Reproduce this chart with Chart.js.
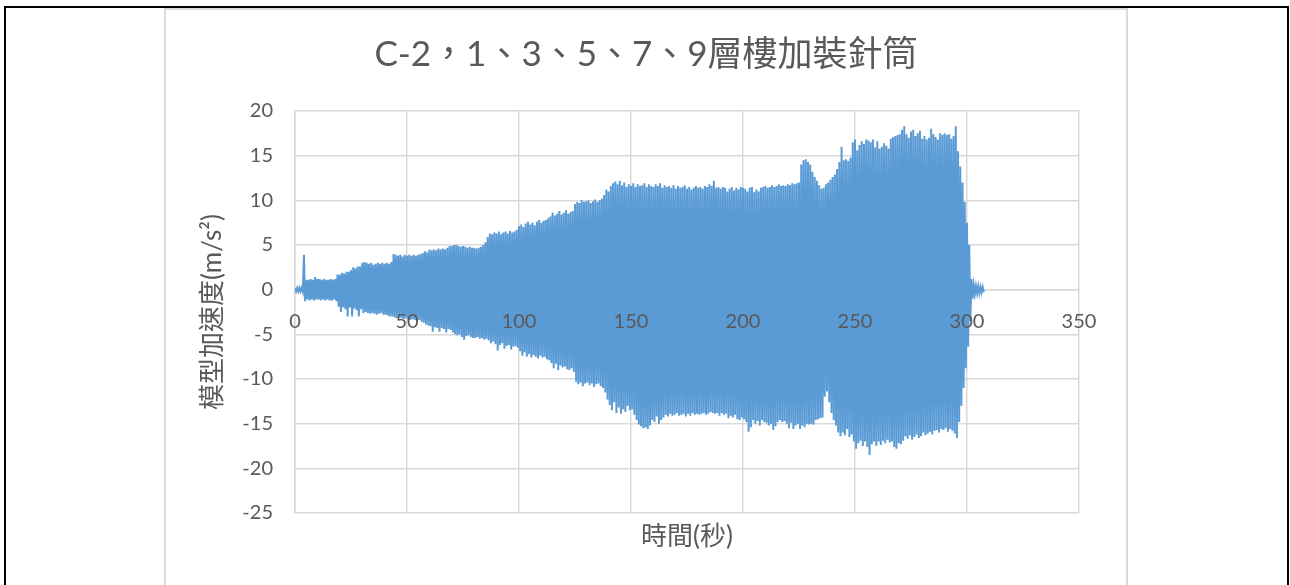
<!DOCTYPE html>
<html>
<head>
<meta charset="utf-8">
<script src="https://cdn.jsdelivr.net/npm/chart.js@4"></script>
<style>
  body { margin: 0; background: #fff; }
  #frame { position: absolute; left: 4px; top: 6px; width: 1285px; height: 700px; border: 2px solid #000; box-sizing: border-box; }
  #box { position: absolute; left: 164px; top: 8px; width: 964px; height: 590px; border: 2px solid #d9d9d9; box-sizing: border-box; background: #fff; }
  #accChart { position: absolute; left: 0; top: 0; }
</style>
</head>
<body>
<div id="frame"></div>
<div id="box"><canvas id="accChart" width="960" height="573"></canvas></div>
<script>
// envelope of the acceleration record, one top and one bottom value per second (t = 0 .. 307 s)
const upperEnv = [
  0.2,0.2,0.2,0.2,3.9,1.1,1.1,1.2,1.1,1.4,
  1.2,1.2,1.1,1.2,1.1,1.1,1.2,1.1,1.2,1.7,
  1.7,1.9,1.8,2.0,2.0,2.2,2.5,2.4,2.6,2.6,
  3.0,3.1,3.0,2.9,3.0,2.8,2.9,3.0,2.9,3.0,
  2.9,3.0,2.9,3.1,4.0,3.9,3.8,3.9,3.7,3.9,
  3.8,3.9,3.8,3.9,3.8,3.9,4.0,4.1,4.3,4.2,
  4.5,4.4,4.5,4.4,4.6,4.5,4.6,4.5,4.7,4.9,
  4.9,5.0,5.0,4.9,4.8,4.9,4.8,4.7,4.8,4.7,
  4.7,4.6,4.7,4.8,5.0,5.3,5.9,6.3,6.2,6.4,
  6.3,6.5,6.2,6.4,6.5,6.3,6.6,6.4,6.5,6.7,
  7.1,7.3,7.0,7.4,7.6,7.3,7.5,7.2,7.6,7.8,
  7.5,7.7,7.8,8.0,8.2,8.6,8.3,8.5,8.8,8.4,
  8.6,8.9,8.5,8.7,8.8,9.6,9.8,9.7,10.0,9.8,
  9.9,10.0,9.7,9.9,10.1,9.8,10.0,10.2,10.6,11.2,
  11.0,11.6,11.9,12.1,11.8,12.2,11.7,12.0,11.5,11.8,
  11.6,11.9,11.5,11.8,11.6,11.7,11.9,11.5,11.8,11.6,
  11.5,11.8,11.6,11.9,11.4,11.7,11.5,11.6,11.4,11.7,
  11.3,11.6,11.4,11.5,11.7,11.3,11.5,11.2,11.4,11.6,
  11.4,11.5,11.3,11.6,11.5,11.8,11.6,12.2,11.4,11.5,
  11.3,11.5,11.4,11.0,11.3,11.5,11.1,11.4,11.2,11.5,
  11.4,11.3,11.0,11.4,11.5,10.9,11.2,11.0,11.4,11.5,
  11.6,11.4,11.5,11.7,11.5,11.6,11.8,11.6,11.7,11.6,
  11.8,11.7,11.9,11.8,11.9,12.0,14.0,14.5,14.6,14.3,
  14.0,13.2,12.6,12.2,11.7,11.3,11.4,11.8,12.0,12.3,
  12.6,12.9,13.5,14.3,16.0,14.5,14.6,14.4,14.8,16.5,
  16.8,15.6,16.2,16.6,16.3,16.8,16.7,16.5,16.8,15.9,
  16.6,15.8,16.0,16.4,16.1,15.8,16.9,17.1,17.2,17.3,
  17.4,17.9,18.3,17.4,17.0,17.7,17.9,17.2,17.5,17.8,
  16.9,17.2,16.8,17.0,18.0,17.4,17.1,16.8,17.5,17.3,
  17.5,17.3,17.4,16.9,17.2,18.3,15.5,13.8,12.0,9.8,
  7.5,5.0,1.2,0.5,0.4,0.4,0.3,0.3
];
const lowerEnv = [
  -0.2,-0.2,-0.2,-0.2,-1.3,-1.1,-1.2,-1.1,-1.2,-1.1,
  -1.1,-1.2,-1.1,-1.2,-1.1,-1.2,-1.2,-1.1,-1.3,-1.9,
  -2.5,-2.0,-2.2,-3.0,-2.0,-3.0,-2.1,-2.3,-3.0,-2.2,
  -2.6,-2.5,-2.6,-2.7,-2.6,-2.7,-2.8,-2.7,-2.6,-2.8,
  -2.8,-2.9,-3.0,-3.0,-3.1,-3.2,-3.1,-3.2,-3.3,-3.2,
  -3.3,-3.4,-3.3,-3.4,-3.5,-3.4,-3.6,-3.7,-3.9,-4.0,
  -4.1,-4.7,-4.2,-4.3,-4.7,-4.3,-4.4,-4.8,-4.4,-4.5,
  -4.8,-5.0,-5.1,-5.0,-5.3,-5.6,-5.2,-5.1,-5.3,-5.4,
  -5.4,-5.3,-5.5,-5.4,-5.6,-5.5,-5.7,-6.0,-5.8,-6.1,
  -6.8,-6.2,-6.0,-6.6,-6.3,-6.2,-6.7,-6.4,-6.3,-6.5,
  -6.9,-7.4,-7.0,-7.5,-7.2,-7.6,-7.3,-7.5,-7.7,-7.4,
  -7.6,-7.5,-7.8,-7.9,-8.2,-8.8,-8.3,-9.0,-8.5,-8.7,
  -8.6,-8.9,-9.0,-8.8,-9.2,-10.3,-10.6,-10.4,-10.8,-10.5,
  -10.4,-10.7,-10.5,-10.9,-10.6,-10.5,-10.8,-11.0,-11.5,-12.3,
  -12.9,-13.5,-12.6,-13.8,-13.2,-13.9,-13.4,-13.7,-13.0,-13.5,
  -13.4,-14.0,-14.6,-15.1,-15.3,-15.5,-15.4,-15.6,-15.2,-14.6,
  -14.8,-14.2,-15.0,-14.6,-14.3,-14.0,-14.2,-13.9,-14.1,-14.0,
  -13.8,-14.1,-14.0,-13.9,-14.2,-13.9,-14.1,-13.8,-14.0,-13.9,
  -14.0,-13.9,-13.8,-14.0,-13.9,-13.7,-13.8,-13.9,-13.8,-14.1,
  -13.8,-14.0,-13.9,-14.4,-14.1,-14.3,-14.0,-14.5,-14.6,-14.3,
  -14.5,-14.8,-15.9,-15.4,-14.6,-15.0,-14.7,-15.2,-14.6,-14.8,
  -14.9,-15.2,-15.0,-15.7,-15.3,-14.8,-14.6,-14.8,-14.7,-15.0,
  -15.5,-14.9,-15.6,-15.2,-15.0,-15.6,-15.2,-15.4,-15.0,-15.1,
  -15.0,-15.1,-14.6,-14.5,-14.4,-14.3,-12.0,-11.4,-12.6,-13.8,
  -14.6,-15.2,-16.0,-16.4,-16.0,-16.3,-15.6,-16.5,-16.2,-17.0,
  -17.8,-17.2,-16.9,-17.5,-17.0,-17.6,-18.5,-17.3,-17.0,-17.5,
  -17.0,-17.4,-16.9,-17.2,-16.8,-17.1,-17.0,-17.6,-17.8,-17.2,
  -17.3,-16.9,-16.4,-16.7,-16.3,-16.8,-16.5,-16.2,-16.6,-16.4,
  -16.0,-16.3,-16.1,-15.9,-16.2,-15.8,-15.7,-16.0,-15.6,-15.7,
  -15.5,-15.9,-15.6,-15.8,-16.1,-16.6,-14.8,-13.0,-11.0,-8.8,
  -6.4,-3.5,-1.0,-0.5,-0.4,-0.4,-0.3,-0.3
];
const xTicks = [0, 50, 100, 150, 200, 250, 300, 350];
const yTicks = [20, 15, 10, 5, 0, -5, -10, -15, -20, -25];

const chartTitle = 'C-2，1、3、5、7、9層樓加裝針筒';
const xTitle = '時間(秒)';
const yTitle = '模型加速度(m/s²)';

// the trace swings between the top and the bottom of the envelope every second
const points = [];
upperEnv.forEach((top, i) => {
  points.push({ x: i, y: top });
  points.push({ x: i + 0.5, y: lowerEnv[i] });
});

const grey = '#595959';
const gridGrey = '#d9d9d9';
const fontFam = "Lato, 'Noto Sans CJK TC', sans-serif";

new Chart(document.getElementById('accChart'), {
  type: 'line',
  data: {
    datasets: [{
      data: points,
      xAxisID: 'x',
      yAxisID: 'y',
      borderColor: '#5B9BD5',
      borderWidth: 2,
      pointRadius: 0,
      tension: 0,
      fill: false
    }]
  },
  options: {
    responsive: false,
    animation: false,
    layout: { padding: { left: 0, right: 0, top: 0, bottom: 30.4 } },
    plugins: {
      legend: { display: false },
      tooltip: { enabled: false },
      title: {
        display: true,
        text: chartTitle,
        color: grey,
        font: { family: fontFam, size: 35, weight: 'normal' },
        padding: { top: 24, bottom: 35 }
      }
    },
    scales: {
      x: {
        type: 'linear',
        min: 0,
        max: 350,
        position: { y: 0 },
        afterBuildTicks: s => { s.ticks = xTicks.map(v => ({ value: v })); },
        ticks: { color: grey, padding: 20, z: 1, font: { family: fontFam, size: 20 } },
        grid: { color: gridGrey, lineWidth: 1.5, drawTicks: false },
        border: { color: gridGrey, width: 1.5 }
      },
      xLabel: {
        type: 'linear',
        axis: 'x',
        min: 0,
        max: 350,
        position: 'bottom',
        ticks: { display: false },
        grid: { display: false, drawTicks: false },
        border: { display: false },
        title: {
          display: true,
          text: xTitle,
          color: grey,
          font: { family: fontFam, size: 26 },
          padding: { top: 8.4, bottom: 0 }
        }
      },
      y: {
        type: 'linear',
        min: -25,
        max: 20,
        afterBuildTicks: s => { s.ticks = yTicks.map(v => ({ value: v })); },
        afterFit: s => { s.width = 129; },
        ticks: { color: grey, padding: 22, font: { family: fontFam, size: 20 } },
        grid: { color: gridGrey, lineWidth: 1.5, drawTicks: false },
        border: { color: gridGrey, width: 1.5 },
        title: {
          display: true,
          text: yTitle,
          color: grey,
          font: { family: fontFam, size: 26 },
          padding: { top: 31.4, bottom: 0 }
        }
      },
      // empty strip on the right so the title stays centred on the whole box
      yRight: {
        type: 'linear',
        axis: 'y',
        position: 'right',
        min: -25,
        max: 20,
        afterFit: s => { s.width = 47; },
        ticks: { display: false },
        grid: { display: false, drawTicks: false },
        border: { display: false }
      }
    }
  }
});
</script>
</body>
</html>
